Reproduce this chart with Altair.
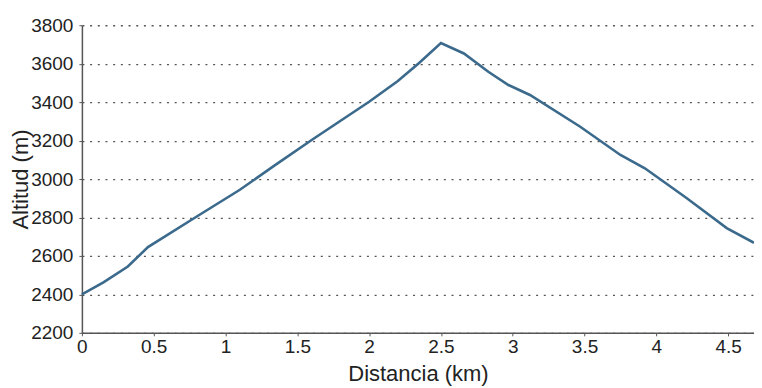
import altair as alt
import pandas as pd

distancia = [0, 0.15, 0.32, 0.46, 0.8, 1.1, 1.35, 1.6, 2.0, 2.2, 2.35, 2.5, 2.66,
             2.83, 2.97, 3.12, 3.47, 3.75, 3.92, 4.21, 4.49, 4.68]
altitud = [2400, 2462, 2545, 2646, 2805, 2944, 3075, 3203, 3402, 3510, 3605, 3707, 3653,
           3558, 3489, 3437, 3272, 3125, 3056, 2901, 2745, 2668]
x_ticks = [0, 0.5, 1, 1.5, 2, 2.5, 3, 3.5, 4, 4.5]
y_ticks = [2200, 2400, 2600, 2800, 3000, 3200, 3400, 3600, 3800]

df = pd.DataFrame({"d": distancia, "a": altitud})

FONT = "Liberation Sans"

chart = alt.Chart(df).mark_line(color="#3b6a8c", strokeWidth=2.6).encode(
    x=alt.X("d:Q", title="Distancia (km)",
            scale=alt.Scale(domain=[0, 4.68], nice=False, zero=False),
            axis=alt.Axis(values=x_ticks, format="~g", grid=False, labelFontSize=19,
                          titleFontSize=22, labelFlush=False, tickSize=3, labelPadding=2,
                          titleY=48, titleBaseline="alphabetic",
                          domainColor="#555555", tickColor="#555555",
                          labelColor="#222222", titleColor="#222222")),
    y=alt.Y("a:Q", title="Altitud (m)",
            scale=alt.Scale(domain=[2200, 3800], nice=False, zero=False),
            axis=alt.Axis(values=y_ticks, format="d", grid=True, gridDash=[2, 5.7],
                          gridColor="#555555", gridWidth=1.3, labelFontSize=19,
                          titleFontSize=22, tickSize=3, labelPadding=6,
                          titleX=-54, titleBaseline="alphabetic",
                          domainColor="#555555", tickColor="#555555",
                          labelColor="#222222", titleColor="#222222")),
).properties(
    width=673, height=308,
    autosize=alt.AutoSizeParams(type="none"),
    padding={"left": 74, "top": 17, "right": 0, "bottom": 55},
).configure_axis(
    labelFont=FONT, titleFont=FONT, titleFontWeight="normal", domainWidth=1.5
).configure_view(stroke=None)

chart.save("out.html", embed_options={"renderer": "svg", "actions": False})
